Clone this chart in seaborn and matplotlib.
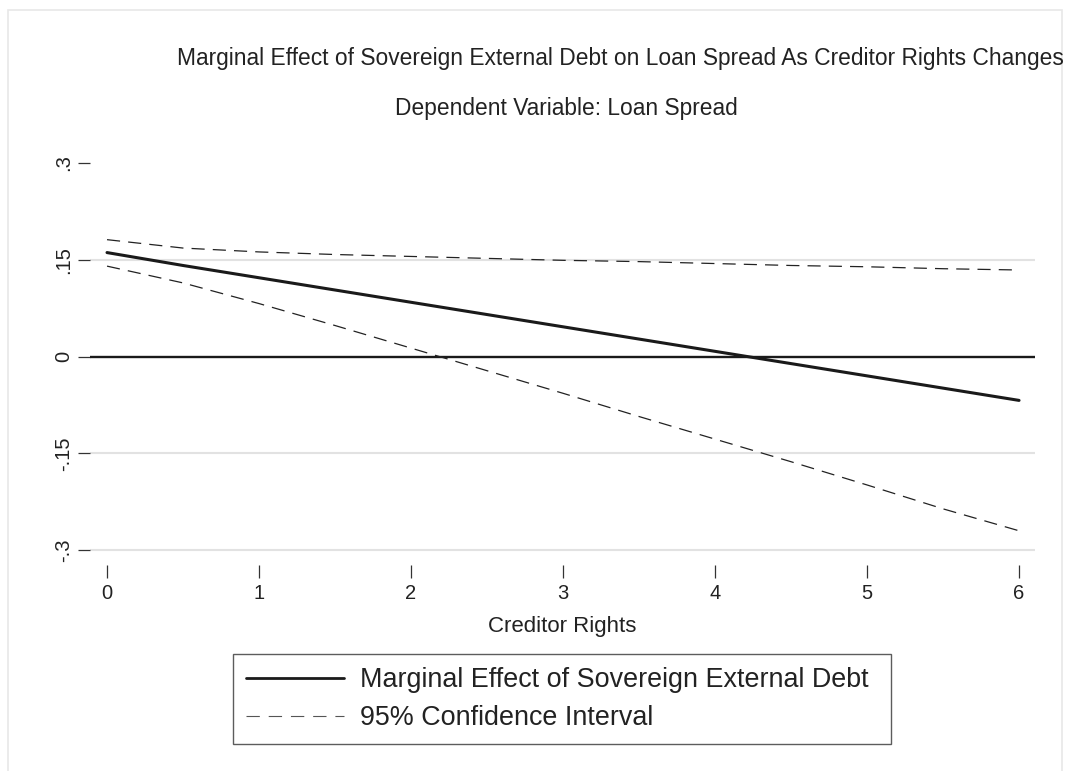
import numpy as np
import pandas as pd
import matplotlib
matplotlib.use("Agg")
import matplotlib.pyplot as plt
import matplotlib.patches as patches
from matplotlib.lines import Line2D
import seaborn as sns

# values
creditor_rights = [0, 0.5, 1, 1.5, 2, 2.5, 3, 3.5, 4, 4.5, 5, 5.5, 6]
marginal_effect = [0.161, 0.141, 0.122, 0.103, 0.084, 0.065, 0.046, 0.027,
                   0.008, -0.011, -0.030, -0.049, -0.068]
ci_upper = [0.181, 0.168, 0.162, 0.158, 0.155, 0.152, 0.149, 0.147,
            0.144, 0.141, 0.139, 0.136, 0.134]
ci_lower = [0.140, 0.114, 0.082, 0.048, 0.013, -0.022, -0.057, -0.093,
            -0.128, -0.163, -0.199, -0.236, -0.270]

y_ticks = [-0.3, -0.15, 0, 0.15, 0.3]
y_tick_labels = ["-.3", "-.15", "0", ".15", ".3"]
x_ticks = [0, 1, 2, 3, 4, 5, 6]
grid_levels = [-0.3, -0.15, 0.15]

title = "Marginal Effect of Sovereign External Debt on Loan Spread As Creditor Rights Changes"
subtitle = "Dependent Variable: Loan Spread"
legend_labels = ["Marginal Effect of Sovereign External Debt", "95% Confidence Interval"]

df = pd.DataFrame({
    "x": creditor_rights,
    "me": marginal_effect,
    "hi": ci_upper,
    "lo": ci_lower,
})

sns.set_theme(style="white")
plt.rcParams["font.family"] = ["Liberation Sans", "DejaVu Sans"]

W, H = 1073, 771
fig = plt.figure(figsize=(W / 100, H / 100), dpi=100)
fig.patch.set_facecolor("white")

# outer light frame (Stata graph region)
fig.add_artist(patches.Rectangle((8 / W, -0.02), (1062 - 8) / W, 1 - 10 / H + 0.02,
                                 transform=fig.transFigure, fill=False,
                                 edgecolor="#e8e8e8", linewidth=1.2))

ax = fig.add_axes([90 / W, 1 - 565 / H, (1035 - 90) / W, (565 - 148) / H])

for g in grid_levels:
    ax.axhline(g, color="#e2e2e2", linewidth=1.5, zorder=0)
ax.axhline(0, color="#1a1a1a", linewidth=1.7, zorder=1)

dash = (0, (10.5, 6.5))
sns.lineplot(data=df, x="x", y="hi", ax=ax, color="#222222", linewidth=0.9,
             linestyle=dash, zorder=2)
sns.lineplot(data=df, x="x", y="lo", ax=ax, color="#222222", linewidth=0.9,
             linestyle=dash, zorder=2)
sns.lineplot(data=df, x="x", y="me", ax=ax, color="#1a1a1a", linewidth=2.2,
             zorder=3)

ax.set_xlim(-0.112, 6.105)
ax.set_ylim(-0.323, 0.323)
ax.set_xticks(x_ticks)
ax.set_xticklabels([str(v) for v in x_ticks])
ax.set_yticks(y_ticks)
ax.set_yticklabels(y_tick_labels, rotation=90, va="center")
for s in ax.spines.values():
    s.set_visible(False)
ax.tick_params(axis="both", direction="out", length=9, width=0.9,
               color="#333333", labelsize=14.5, labelcolor="#222222")
ax.tick_params(axis="x", pad=5, bottom=True)
ax.tick_params(axis="y", pad=3, left=True)
ax.set_xlabel("Creditor Rights", fontsize=16, color="#222222", labelpad=9)
ax.set_ylabel("")

fig.text(620 / W, 1 - 58 / H, title, ha="center", va="center",
         fontsize=16.4, color="#222222")
fig.text(566 / W, 1 - 108 / H, subtitle, ha="center", va="center",
         fontsize=16.4, color="#222222")

handles = [
    Line2D([], [], color="#1a1a1a", linewidth=2.0),
    Line2D([], [], color="#555555", linewidth=0.8, linestyle=(0, (12, 8))),
]
x0, x1, y0, y1 = 233 / W, 891 / W, 1 - 741 / H, 1 - 654 / H
leg = ax.legend(handles, legend_labels, loc="upper left",
                bbox_to_anchor=(x0, y0, x1 - x0, y1 - y0), bbox_transform=fig.transFigure,
                mode="expand", fontsize=19.4, frameon=True, fancybox=False,
                handlelength=3.65, handletextpad=0.6, labelspacing=0.45,
                borderpad=0.48, borderaxespad=0)
leg.get_frame().set_edgecolor("#333333")
leg.get_frame().set_linewidth(1.0)
for t in leg.get_texts():
    t.set_color("#222222")

fig.savefig("out.png", dpi=100, facecolor="white")
